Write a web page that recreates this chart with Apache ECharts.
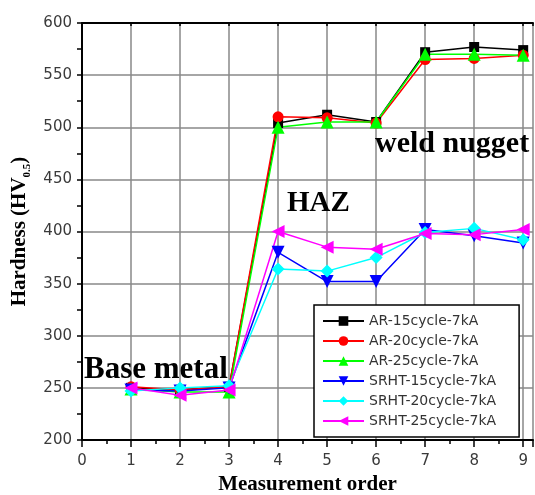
<!DOCTYPE html>
<html>
<head>
<meta charset="utf-8">
<script src="https://cdn.jsdelivr.net/npm/echarts@6/dist/echarts.min.js"></script>
<style>
  html, body { margin: 0; padding: 0; background: #fff; }
  #chart { width: 535px; height: 495px; }
</style>
</head>
<body>
<div id="chart"></div>
<script>
// Measurement positions across the weld
const positions = [1, 2, 3, 4, 5, 6, 7, 8, 9];

// Hardness readings (HV0.5) per specimen
const ar15   = [250, 248, 251, 504, 512, 505, 572, 577, 574];
const ar20   = [251, 248, 251, 510, 509, 504, 565, 566, 569];
const ar25   = [249, 246, 246, 500, 505, 505, 570, 570, 569];
const srht15 = [248, 247, 250, 380, 352, 352, 402, 396, 389];
const srht20 = [247, 250, 252, 364, 362, 375, 399, 403, 392];
const srht25 = [250, 243, 248, 400, 385, 383, 398, 397, 402];

const seriesNames = [
  'AR-15cycle-7kA', 'AR-20cycle-7kA', 'AR-25cycle-7kA',
  'SRHT-15cycle-7kA', 'SRHT-20cycle-7kA', 'SRHT-25cycle-7kA'
];

// Region annotations
const regionLabels = ['weld nugget', 'HAZ', 'Base metal'];

const chart = echarts.init(document.getElementById('chart'));

const tickFont = { fontFamily: 'DejaVu Sans', fontSize: 15, color: '#3a3a3a' };
const serifBold = { fontFamily: 'Liberation Serif', fontWeight: 'bold', color: '#000' };

function makeSeries(name, values, color, symbol, rotate, size) {
  return {
    name: name,
    type: 'line',
    data: positions.map((p, i) => [p, values[i]]),
    symbol: symbol,
    symbolRotate: rotate,
    symbolSize: size,
    lineStyle: { color: color, width: 1.5 },
    itemStyle: { color: color },
    emphasis: { disabled: true },
    animation: false
  };
}

chart.setOption({
  backgroundColor: '#fff',
  animation: false,
  grid: { left: 82, top: 23, right: 2, bottom: 55, containLabel: false, outerBoundsMode: 'none' },
  xAxis: [
    {
      type: 'value',
      min: 0, max: 9.2, interval: 1,
      position: 'bottom',
      name: 'Measurement order',
      nameLocation: 'middle',
      nameGap: 32,
      nameTextStyle: Object.assign({ fontSize: 21 }, serifBold),
      axisLine: { show: true, onZero: false, lineStyle: { color: '#000', width: 2 } },
      axisTick: { show: true, length: 7, lineStyle: { color: '#000', width: 1.5 } },
      minorTick: { show: true, splitNumber: 2, length: 4, lineStyle: { color: '#000', width: 1.5 } },
      axisLabel: Object.assign({ margin: 14, showMaxLabel: false }, tickFont),
      splitLine: { show: true, lineStyle: { color: '#888', width: 1.5 } }
    },
    {
      type: 'value',
      min: 0, max: 9.2, interval: 1,
      position: 'top',
      axisLine: { show: true, onZero: false, lineStyle: { color: '#000', width: 2 } },
      axisTick: { show: true, inside: true, length: 3, lineStyle: { color: '#000', width: 1.5 } },
      axisLabel: { show: false },
      splitLine: { show: false }
    }
  ],
  yAxis: {
    type: 'value',
    min: 200, max: 600, interval: 50,
    name: '{m|Hardness (HV}{s|0.5}{m|)}',
    nameLocation: 'middle',
    nameGap: 48,
    nameTextStyle: {
      rich: {
        m: Object.assign({ fontSize: 21, lineHeight: 25 }, serifBold),
        s: Object.assign({ fontSize: 11, lineHeight: 25, verticalAlign: 'bottom' }, serifBold)
      }
    },
    axisLine: { show: true, onZero: false, lineStyle: { color: '#000', width: 2 } },
    axisTick: { show: true, length: 5, lineStyle: { color: '#000', width: 1.5 } },
    minorTick: { show: true, splitNumber: 2, length: 5, lineStyle: { color: '#000', width: 1.5 } },
    axisLabel: Object.assign({ margin: 10 }, tickFont),
    splitLine: { show: true, lineStyle: { color: '#888', width: 1.5 } }
  },
  legend: {
    orient: 'vertical',
    left: 314,
    top: 305,
    padding: [9, 23, 9, 8],
    itemWidth: 41,
    itemHeight: 12,
    itemGap: 6,
    backgroundColor: '#fff',
    borderColor: '#000',
    borderWidth: 1.5,
    textStyle: { fontFamily: 'DejaVu Sans', fontSize: 14, color: '#333' },
    data: seriesNames
  },
  series: [
    makeSeries(seriesNames[0], ar15,   '#000000', 'rect', 0, 10),
    makeSeries(seriesNames[1], ar20,   '#ff0000', 'circle', 0, 11),
    makeSeries(seriesNames[2], ar25,   '#00ff00', 'triangle', 0, 13),
    makeSeries(seriesNames[3], srht15, '#0000ff', 'triangle', 180, 13),
    makeSeries(seriesNames[4], srht20, '#00ffff', 'diamond', 0, 13),
    makeSeries(seriesNames[5], srht25, '#ff00ff', 'triangle', 90, 13)
  ],
  graphic: [
    { type: 'text', left: 375, top: 129, z: 100,
      style: Object.assign({ text: regionLabels[0], fontSize: 30 }, serifBold) },
    { type: 'text', left: 287, top: 189, z: 100,
      style: Object.assign({ text: regionLabels[1], fontSize: 29 }, serifBold) },
    { type: 'text', left: 84, top: 354, z: 100,
      style: Object.assign({ text: regionLabels[2], fontSize: 31 }, serifBold) }
  ]
});
</script>
</body>
</html>
